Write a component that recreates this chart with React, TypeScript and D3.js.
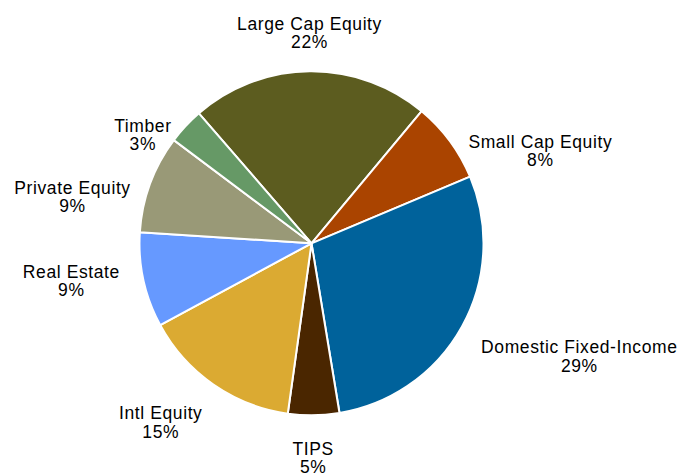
import React from "react";
import * as d3 from "d3";

// asset allocation, clockwise from the top-left edge of Large Cap Equity
const categories = [
  "Large Cap Equity",
  "Small Cap Equity",
  "Domestic Fixed-Income",
  "TIPS",
  "Intl Equity",
  "Real Estate",
  "Private Equity",
  "Timber",
];
const weights = [22.4, 7.6, 28.7, 4.8, 14.9, 8.9, 9.2, 3.4];
const colors = [
  "#5C5C1F",
  "#AA4400",
  "#00629B",
  "#4A2600",
  "#DBAA32",
  "#6699FF",
  "#999977",
  "#669966",
];

// label nudges (px) away from the plain outside-radius spot, like Excel's best fit
const labelNudge: Record<string, [number, number]> = {
  "Large Cap Equity": [0, 0],
  "Small Cap Equity": [60, 33],
  "Domestic Fixed-Income": [84, 12],
  TIPS: [-1, 5],
  "Intl Equity": [-31, 7],
  "Real Estate": [-35, -7],
  "Private Equity": [-42, 27],
  Timber: [-15, 35],
};

const width = 683;
const height = 473;
const cx = 311.5;
const cy = 243.3;
const radius = 172;
const labelRadius = 210;
const startDeg = -40.9;

export default function App() {
  const rows = categories.map((name, i) => ({ name, value: weights[i], color: colors[i] }));
  const total = d3.sum(weights);

  const pie = d3
    .pie<{ name: string; value: number; color: string }>()
    .sort(null)
    .value((d) => d.value)
    .startAngle((startDeg * Math.PI) / 180)
    .endAngle((startDeg * Math.PI) / 180 + 2 * Math.PI);

  const arc = d3.arc<d3.PieArcDatum<{ name: string; value: number; color: string }>>()
    .innerRadius(0)
    .outerRadius(radius);

  const slices = pie(rows);

  return (
    <svg
      width={width}
      height={height}
      style={{ position: "absolute", left: 0, top: 0, background: "#fff" }}
    >
      <g transform={`translate(${cx},${cy})`}>
        {slices.map((s) => (
          <path key={s.data.name} d={arc(s) || ""} fill={s.data.color} stroke="#fff" strokeWidth={2} strokeLinejoin="round" />
        ))}
      </g>
      <g
        transform={`translate(${cx},${cy})`}
        style={{ fontFamily: "'Liberation Sans', Arial, sans-serif", fontSize: "17.5px", letterSpacing: "0.6px" }}
      >
        {slices.map((s) => {
          const mid = (s.startAngle + s.endAngle) / 2;
          const [nx, ny] = labelNudge[s.data.name] || [0, 0];
          const x = Math.sin(mid) * labelRadius + nx;
          const y = -Math.cos(mid) * labelRadius + ny;
          const pct = Math.round((s.data.value / total) * 100) + "%";
          return (
            <text key={"l" + s.data.name} textAnchor="middle" fill="#000">
              <tspan x={x} y={y - 3.4}>{s.data.name}</tspan>
              <tspan x={x} y={y + 14.9}>{pct}</tspan>
            </text>
          );
        })}
      </g>
    </svg>
  );
}
